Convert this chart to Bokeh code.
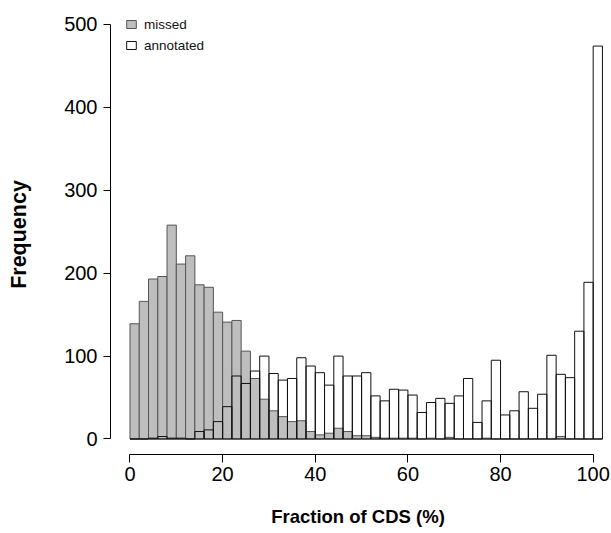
from bokeh.plotting import figure
from bokeh.models import Range1d, FixedTicker, Legend, LegendItem, ColumnDataSource
from bokeh.embed import file_html
from bokeh.resources import INLINE

# Histogram data (bins of width 2, left edges 0..100)
bin_width = 2
bin_left = list(range(0, 102, 2))
missed = [139, 166, 193, 196, 258, 211, 221, 186, 183, 153,
          141, 143, 106, 73, 48, 34, 27, 21, 22, 9,
          5, 7, 13, 9, 4, 4, 2, 1, 1, 1,
          1, 0, 1, 0, 2, 0, 0, 0, 1, 0,
          0, 0, 0, 0, 0, 0, 3, 0, 0, 0, 0]
annotated = [0, 0, 1, 3, 1, 1, 0, 9, 11, 21,
             39, 76, 67, 82, 100, 79, 71, 73, 98, 88,
             80, 65, 100, 76, 76, 80, 52, 46, 60, 59,
             53, 32, 44, 49, 43, 52, 73, 20, 46, 95,
             29, 34, 57, 37, 54, 101, 78, 74, 130, 189, 474]
x_ticks = [0, 20, 40, 60, 80, 100]
y_ticks = [0, 100, 200, 300, 400, 500]

src = ColumnDataSource(dict(
    left=bin_left,
    right=[b + bin_width for b in bin_left],
    missed=missed,
    annotated=annotated,
    bottom=[0] * len(bin_left),
))

FONT = "Liberation Sans"

p = figure(width=611, height=533,
           x_range=Range1d(-4.21, 102.66), y_range=Range1d(-18.7, 512.06),
           output_backend="svg", toolbar_location=None,
           min_border_left=110, min_border_right=6,
           min_border_top=14, min_border_bottom=79)
p.outline_line_color = None
p.xgrid.visible = False
p.ygrid.visible = False
p.background_fill_color = "white"
p.border_fill_color = "white"

r_missed = p.quad(left="left", right="right", bottom="bottom", top="missed", source=src,
                  fill_color="#bebebe", line_color="#555555", line_width=1)
r_annot = p.quad(left="left", right="right", bottom="bottom", top="annotated", source=src,
                 fill_color=None, line_color="#111111", line_width=1)

for ax, ticks, bounds in ((p.xaxis[0], x_ticks, (0, 100)), (p.yaxis[0], y_ticks, (0, 500))):
    ax.ticker = FixedTicker(ticks=ticks)
    ax.bounds = bounds
    ax.minor_tick_line_color = None
    ax.major_tick_in = 0
    ax.axis_line_color = "black"
    ax.major_tick_line_color = "black"
    ax.major_label_text_font = FONT
    ax.major_label_text_font_size = "20px"
    ax.major_label_text_color = "black"
    ax.axis_label_text_font = FONT
    ax.axis_label_text_font_style = "bold"
    ax.axis_label_text_color = "black"

p.xaxis.major_tick_out = 8
p.xaxis.major_label_standoff = 4
p.xaxis.axis_label = "Fraction of CDS (%)"
p.xaxis.axis_label_text_font_size = "18.5px"
p.xaxis.axis_label_standoff = 22
p.yaxis.major_tick_out = 7
p.yaxis.major_label_standoff = 6
p.yaxis.axis_label = "Frequency"
p.yaxis.axis_label_text_font_size = "21.5px"
p.yaxis.axis_label_standoff = 30

legend = Legend(items=[LegendItem(label="missed", renderers=[r_missed]),
                       LegendItem(label="annotated", renderers=[r_annot])],
                location=(15, 399))
legend.margin = 0
legend.padding = 0
legend.border_line_color = None
legend.background_fill_alpha = 0
legend.glyph_width = 12
legend.glyph_height = 10
legend.label_height = 20
legend.spacing = 1
legend.label_standoff = 7
legend.label_text_font = FONT
legend.label_text_font_size = "13.5px"
legend.label_text_color = "#111111"
p.add_layout(legend, "center")

open("out.html", "w").write(file_html(p, INLINE))
